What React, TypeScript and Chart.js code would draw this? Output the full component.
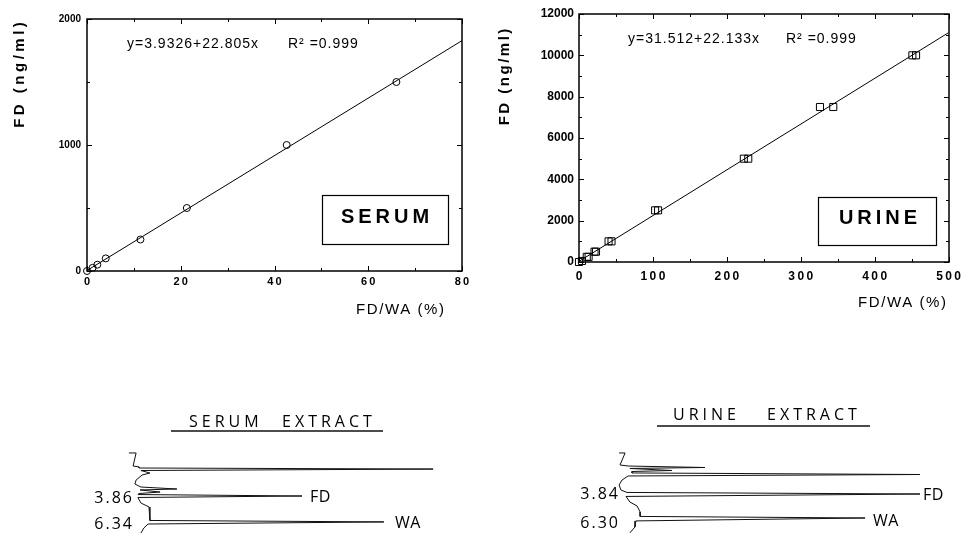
import React, { useEffect, useRef } from "react";
import { Chart, registerables } from "chart.js";

Chart.register(...registerables);
Chart.defaults.font.family = "'Liberation Sans', Arial, Helvetica, sans-serif";
Chart.defaults.color = "#000";

// ---- Serum calibration: FD concentration vs FD/WA peak ratio ----
const serumRatio = [0, 1.2, 2.2, 4.0, 11.4, 21.3, 42.6, 66.0];
const serumConc = [0, 25, 50, 100, 250, 500, 1000, 1500];
const serumIntercept = 3.9326;
const serumSlope = 22.805;
const serumR2 = 0.999;
const serumXMax = 80;
const serumYMax = 2000;
const serumXStep = 20;
const serumYStep = 1000;

// ---- Urine calibration (duplicate standards) ----
const urineRatio = [0, 4, 10.5, 13, 21, 23, 40, 44, 103, 107, 223, 229, 326, 344, 451, 456];
const urineConc = [0, 50, 250, 250, 500, 500, 1000, 1000, 2500, 2500, 5000, 5000, 7500, 7500, 10000, 10000];
const urineIntercept = 31.512;
const urineSlope = 22.133;
const urineR2 = 0.999;
const urineXMax = 500;
const urineYMax = 12000;
const urineXStep = 100;
const urineYStep = 2000;

// ---- Chromatograms: detector signal (arbitrary units) vs retention time (min) ----
const serumTraceSignal = [-3.7, -1.3, -2.3, -0.3, -0.3, 97.7, 0.3, 3.3, 0.7, -1.3, -1.7, 0.3, 12.3, 0.0, 6.7, -0.3, -0.7, 54.0, -0.7, 0.3, 3.0, 3.3, 3.3, 81.3, 2.7, 1.3, 0.3];
const serumTraceTime = [-0.26, -0.26, 0.99, 1.08, 1.18, 1.28, 1.42, 1.66, 1.85, 2.33, 2.71, 3.0, 3.19, 3.28, 3.48, 3.62, 3.72, 3.86, 4.0, 4.53, 4.91, 5.96, 6.2, 6.34, 6.54, 6.92, 7.4];
const serumPeakTimes = [3.86, 6.34];
const serumPeakNames = ["FD", "WA"];

const urineTraceSignal = [-0.3, 1.7, 0.0, 2.7, 28.3, 3.3, 17.3, 4.0, 4.0, 100, 2.7, 0.7, -0.3, 0.3, 2.3, 100, 2.0, 3.3, 5.7, 6.7, 6.7, 81.7, 5.3, 5.0, 3.3];
const urineTraceTime = [-0.37, -0.37, 0.86, 0.97, 1.12, 1.22, 1.43, 1.53, 1.68, 1.84, 1.99, 2.4, 2.91, 3.43, 3.68, 3.84, 4.09, 4.66, 5.07, 5.68, 6.14, 6.30, 6.6, 7.22, 7.83];
const urinePeakTimes = [3.84, 6.30];
const urinePeakNames = ["FD", "WA"];

type Txt = {
  text: string;
  x: number;
  y: number;
  font: string;
  align?: CanvasTextAlign;
  spacing?: number;
  rotate?: boolean;
};

function drawText(ctx: CanvasRenderingContext2D, t: Txt) {
  ctx.save();
  ctx.font = t.font;
  ctx.fillStyle = "#000";
  const sp = t.spacing ?? 0;
  (ctx as any).letterSpacing = `${sp}px`;
  ctx.textAlign = t.align ?? "left";
  ctx.textBaseline = "middle";
  ctx.translate(t.x, t.y);
  if (t.rotate) ctx.rotate(-Math.PI / 2);
  const shift = t.align === "center" ? sp / 2 : t.align === "right" ? sp : 0;
  ctx.fillText(t.text, shift, 0);
  ctx.restore();
}

const isMajor = (v: number, step: number) => Math.abs(v / step - Math.round(v / step)) < 1e-6;

// tick labels: plain digits, x-axis ones slightly spread out
const spaced = (v: number | string) => String(v).split("").join("\u2009");
const plain = (v: number | string) => String(v);

type FrameOpts = {
  xMinor: number;
  xMajor: number;
  yMinor: number;
  yMajor: number;
  texts: Txt[];
  box: { x: number; y: number; w: number; h: number };
};

// Boxed frame with inward major/minor ticks on all four sides, plus annotations.
function framePlugin(o: FrameOpts) {
  return {
    id: "frame",
    afterDraw(chart: any) {
      const { ctx, chartArea: a } = chart;
      const xs = chart.scales.x;
      const ys = chart.scales.y;
      const L = Math.round(a.left);
      const R = Math.round(a.right);
      const T = Math.round(a.top);
      const B = Math.round(a.bottom);
      ctx.save();
      ctx.strokeStyle = "#000";
      ctx.lineWidth = 1.5;
      ctx.strokeRect(L, T, R - L, B - T);
      ctx.lineWidth = 1;
      ctx.beginPath();
      for (let v = xs.min; v <= xs.max + 1e-9; v += o.xMinor) {
        const px = Math.round(xs.getPixelForValue(v)) + 0.5;
        const len = isMajor(v, o.xMajor) ? 5 : 3;
        ctx.moveTo(px, B);
        ctx.lineTo(px, B - len);
        ctx.moveTo(px, T);
        ctx.lineTo(px, T + len);
      }
      for (let v = ys.min; v <= ys.max + 1e-9; v += o.yMinor) {
        const py = Math.round(ys.getPixelForValue(v)) + 0.5;
        const len = isMajor(v, o.yMajor) ? 5 : 3;
        ctx.moveTo(L, py);
        ctx.lineTo(L + len, py);
        ctx.moveTo(R, py);
        ctx.lineTo(R - len, py);
      }
      ctx.stroke();
      ctx.lineWidth = 1.2;
      ctx.strokeRect(o.box.x + 0.5, o.box.y + 0.5, o.box.w, o.box.h);
      ctx.restore();
      o.texts.forEach((t) => drawText(ctx, t));
    },
  };
}

type CalOpts = {
  ratio: number[];
  conc: number[];
  intercept: number;
  slope: number;
  xMax: number;
  yMax: number;
  xStep: number;
  yStep: number;
  marker: string;
  markerRadius: number;
  xFont: number;
  yFont: number;
  xPad: number;
  yPad: number;
  padding: { left: number; right: number; top: number; bottom: number };
  frame: FrameOpts;
};

function calibrationConfig(o: CalOpts): any {
  const points = o.ratio.map((x, i) => ({ x, y: o.conc[i] }));
  const fit = [0, o.xMax].map((x) => ({ x, y: o.intercept + o.slope * x }));
  return {
    type: "scatter",
    data: {
      datasets: [
        {
          data: points,
          pointStyle: o.marker,
          pointRadius: o.markerRadius,
          pointBorderWidth: 1,
          pointBorderColor: "#000",
          pointBackgroundColor: "rgba(0,0,0,0)",
          borderColor: "#000",
          backgroundColor: "rgba(0,0,0,0)",
          clip: false,
        },
        {
          data: fit,
          showLine: true,
          pointRadius: 0,
          borderColor: "#000",
          borderWidth: 1,
          tension: 0,
        },
      ],
    },
    options: {
      animation: false,
      responsive: false,
      events: [],
      layout: { padding: o.padding },
      plugins: { legend: { display: false }, tooltip: { enabled: false } },
      scales: {
        x: {
          type: "linear",
          min: 0,
          max: o.xMax,
          grid: { display: false, drawTicks: false },
          border: { display: false },
          ticks: {
            stepSize: o.xStep,
            padding: o.xPad,
            maxRotation: 0,
            color: "#000",
            font: { size: o.xFont, weight: "bold" },
            callback: (v: number) => spaced(v),
          },
          afterFit: (s: any) => {
            s.height = 20;
          },
        },
        y: {
          type: "linear",
          min: 0,
          max: o.yMax,
          grid: { display: false, drawTicks: false },
          border: { display: false },
          ticks: {
            stepSize: o.yStep,
            padding: o.yPad,
            color: "#000",
            font: { size: o.yFont, weight: "bold" },
            callback: (v: number) => plain(v),
          },
          afterFit: (s: any) => {
            s.width = 40;
          },
        },
      },
    },
    plugins: [framePlugin(o.frame)],
  };
}

type ChromOpts = {
  signal: number[];
  time: number[];
  peakTimes: number[];
  peakNames: string[];
  vMin: number;
  vMax: number;
  tMin: number;
  tMax: number;
  padding: { left: number; right: number; top: number; bottom: number };
  titleWords: Txt[];
  underline: { x1: number; x2: number; y: number };
  timeLabelX: number;
  timeLabelDy: number[];
  nameGap: number[];
  nameDy: number[];
};

const chromFont = "16px 'Open Sans', 'DejaVu Sans', sans-serif";

// Retention-time labels on the left, compound names at the tips of their peaks.
function chromPlugin(o: ChromOpts) {
  return {
    id: "chromLabels",
    afterDraw(chart: any) {
      const { ctx } = chart;
      const xs = chart.scales.x;
      const ys = chart.scales.y;
      o.titleWords.forEach((t) => drawText(ctx, t));
      ctx.save();
      ctx.strokeStyle = "#111";
      ctx.lineWidth = 1.5;
      ctx.beginPath();
      ctx.moveTo(o.underline.x1, o.underline.y);
      ctx.lineTo(o.underline.x2, o.underline.y);
      ctx.stroke();
      ctx.restore();
      o.peakTimes.forEach((t, i) => {
        const py = ys.getPixelForValue(t);
        drawText(ctx, {
          text: t.toFixed(2),
          x: o.timeLabelX,
          y: py + o.timeLabelDy[i],
          font: chromFont,
          align: "right",
          spacing: 2,
        });
        const idx = o.time.indexOf(t);
        const apex = xs.getPixelForValue(o.signal[idx]);
        drawText(ctx, {
          text: o.peakNames[i],
          x: apex + o.nameGap[i],
          y: py + o.nameDy[i],
          font: chromFont,
          align: "left",
          spacing: 0.5,
        });
      });
    },
  };
}

function chromConfig(o: ChromOpts): any {
  return {
    type: "scatter",
    data: {
      datasets: [
        {
          data: o.signal.map((v, i) => ({ x: v, y: o.time[i] })),
          showLine: true,
          pointRadius: 0,
          borderColor: "#111",
          borderWidth: 1,
          tension: 0,
        },
      ],
    },
    options: {
      animation: false,
      responsive: false,
      events: [],
      layout: { padding: o.padding },
      plugins: { legend: { display: false }, tooltip: { enabled: false } },
      scales: {
        x: { type: "linear", display: false, min: o.vMin, max: o.vMax },
        y: { type: "linear", display: false, reverse: true, min: o.tMin, max: o.tMax },
      },
    },
    plugins: [chromPlugin(o)],
  };
}

function ChartCanvas(props: { left: number; top: number; width: number; height: number; build: () => any }) {
  const ref = useRef<HTMLCanvasElement>(null);
  useEffect(() => {
    const chart = new Chart(ref.current as HTMLCanvasElement, props.build());
    return () => chart.destroy();
  }, []);
  return (
    <canvas
      ref={ref}
      width={props.width}
      height={props.height}
      style={{ position: "absolute", left: props.left, top: props.top, width: props.width, height: props.height }}
    />
  );
}

const eqFont = "14px 'Liberation Sans', Arial, sans-serif";
const yTitleFont = "bold 15px 'Liberation Sans', Arial, sans-serif";
const xTitleFont = "15px 'Liberation Sans', Arial, sans-serif";
const boxFont = "bold 20px 'Liberation Sans', Arial, sans-serif";

const equation = (a: number, b: number) => `y=${a}+${b}x`;
const r2Text = (r: number) => `R\u00B2 =${r.toFixed(3)}`;

export default function App() {
  const serum = () =>
    calibrationConfig({
      ratio: serumRatio,
      conc: serumConc,
      intercept: serumIntercept,
      slope: serumSlope,
      xMax: serumXMax,
      yMax: serumYMax,
      xStep: serumXStep,
      yStep: serumYStep,
      marker: "circle",
      markerRadius: 3.5,
      xFont: 11,
      yFont: 10,
      xPad: 4,
      yPad: 6,
      padding: { left: 47, right: 18, top: 19, bottom: 39 },
      frame: {
        xMinor: 10,
        xMajor: serumXStep,
        yMinor: 500,
        yMajor: serumYStep,
        box: { x: 322, y: 195, w: 126, h: 49 },
        texts: [
          { text: "FD (ng/ml)", x: 20, y: 75, font: yTitleFont, align: "center", spacing: 3.5, rotate: true },
          { text: "FD/WA (%)", x: 400, y: 310, font: xTitleFont, align: "center", spacing: 1.6 },
          { text: equation(serumIntercept, serumSlope), x: 127, y: 44, font: eqFont, spacing: 1 },
          { text: r2Text(serumR2), x: 288, y: 44, font: eqFont, spacing: 1 },
          { text: "SERUM", x: 385, y: 217, font: boxFont, align: "center", spacing: 4 },
        ],
      },
    });

  const urine = () =>
    calibrationConfig({
      ratio: urineRatio,
      conc: urineConc,
      intercept: urineIntercept,
      slope: urineSlope,
      xMax: urineXMax,
      yMax: urineYMax,
      xStep: urineXStep,
      yStep: urineYStep,
      marker: "rect",
      markerRadius: 5,
      xFont: 12,
      yFont: 12,
      xPad: 7,
      yPad: 5,
      padding: { left: 59, right: 14, top: 14, bottom: 48 },
      frame: {
        xMinor: 50,
        xMajor: urineXStep,
        yMinor: 1000,
        yMajor: urineYStep,
        box: { x: 338, y: 197, w: 118, h: 48 },
        texts: [
          { text: "FD (ng/ml)", x: 25, y: 77, font: yTitleFont, align: "center", spacing: 2.5, rotate: true },
          { text: "FD/WA (%)", x: 422, y: 303, font: xTitleFont, align: "center", spacing: 1.6 },
          { text: equation(urineIntercept, urineSlope), x: 148, y: 39, font: eqFont, spacing: 1 },
          { text: r2Text(urineR2), x: 306, y: 39, font: eqFont, spacing: 1 },
          { text: "URINE", x: 398, y: 218, font: boxFont, align: "center", spacing: 4 },
        ],
      },
    });

  const serumChrom = () =>
    chromConfig({
      signal: serumTraceSignal,
      time: serumTraceTime,
      peakTimes: serumPeakTimes,
      peakNames: serumPeakNames,
      vMin: -5,
      vMax: 100,
      tMin: -1.5,
      tMax: 7.4,
      padding: { left: 65, right: 40, top: 45, bottom: 0 },
      titleWords: [
        { text: "SERUM", x: 129, y: 27, font: chromFont, spacing: 4 },
        { text: "EXTRACT", x: 222, y: 27, font: chromFont, spacing: 4 },
      ],
      underline: { x1: 111, x2: 323, y: 36 },
      timeLabelX: 72,
      timeLabelDy: [2, 3],
      nameGap: [8, 11],
      nameDy: [1, 2],
    });

  const urineChrom = () =>
    chromConfig({
      signal: urineTraceSignal,
      time: urineTraceTime,
      peakTimes: urinePeakTimes,
      peakNames: urinePeakNames,
      vMin: -5,
      vMax: 105,
      tMin: -1.7,
      tMax: 7.84,
      padding: { left: 65, right: 33, top: 45, bottom: 0 },
      titleWords: [
        { text: "URINE", x: 133, y: 20, font: chromFont, spacing: 4 },
        { text: "EXTRACT", x: 227, y: 20, font: chromFont, spacing: 4 },
      ],
      underline: { x1: 117, x2: 330, y: 31 },
      timeLabelX: 78,
      timeLabelDy: [0, 5],
      nameGap: [3, 8],
      nameDy: [1, 3],
    });

  return (
    <div style={{ position: "absolute", left: 0, top: 0, width: 968, height: 533, background: "#fff", overflow: "hidden" }}>
      <ChartCanvas left={0} top={0} width={480} height={330} build={serum} />
      <ChartCanvas left={480} top={0} width={488} height={330} build={urine} />
      <ChartCanvas left={60} top={395} width={420} height={138} build={serumChrom} />
      <ChartCanvas left={540} top={395} width={428} height={138} build={urineChrom} />
    </div>
  );
}
